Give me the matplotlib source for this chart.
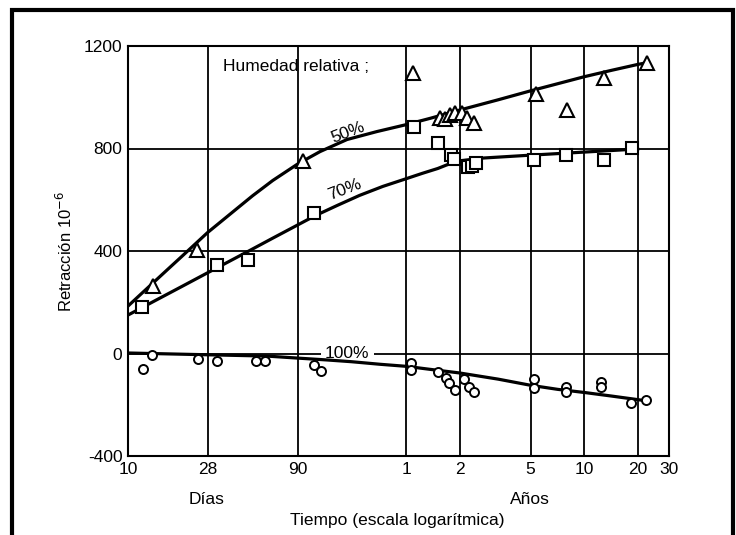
import matplotlib
matplotlib.use("Agg")
import matplotlib.pyplot as plt
from matplotlib.patches import Rectangle

plt.rcParams['font.family'] = ['Liberation Sans', 'DejaVu Sans']

# Time in days, shrinkage in microstrain (10^-6)
hr50_days = [13.8, 24.3, 96, 397, 565, 600, 641, 686, 748, 804, 874, 1954, 2923, 4719, 8246]
hr50_vals = [264, 404, 751, 1095, 919, 915, 931, 939, 939, 919, 900, 1013, 950, 1075, 1134]

hr70_days = [12, 31.6, 47, 111, 402, 555, 649, 676, 813, 852, 896, 1914, 2888, 4719, 6795]
hr70_vals = [182, 345, 365, 548, 884, 822, 775, 759, 728, 732, 743, 755, 775, 755, 802]

hr100_days = [12.1, 13.6, 24.6, 31.6, 52.2, 58.8, 111, 121, 387, 387,
              555, 611, 639, 684, 775, 822, 875, 1914, 1914, 2888, 2888,
              4547, 4547, 6710, 8150]
hr100_vals = [-59, -4, -23, -31, -31, -31, -43, -70, -39, -66,
              -74, -94, -117, -144, -101, -129, -152, -101, -133, -129, -152,
              -113, -129, -195, -183]

# Fitted trend curves
fit50_days = [10, 12, 14, 17, 20, 24, 28, 40, 50, 65, 90, 120, 170, 250,
              365, 500, 730, 1200, 1826, 2600, 3652, 5200, 7300, 8250]
fit50_vals = [185, 236, 279, 333, 378, 429, 472, 560, 615, 675, 740, 788, 835, 866,
              893, 918, 950, 990, 1025, 1053, 1080, 1105, 1128, 1135]

fit70_days = [10, 14, 20, 28, 36, 48, 65, 90, 112, 150, 200, 270, 365, 450,
              550, 650, 730, 1000, 1826, 3652, 7300]
fit70_vals = [150, 204, 261, 315, 355, 401, 450, 502, 537, 578, 617, 652, 682, 703,
              722, 742, 752, 763, 774, 786, 798]

fit100_days = [10, 28, 60, 90, 130, 180, 260, 365, 500, 730, 1200, 1826, 2600,
               3652, 5200, 7305, 8200]
fit100_vals = [2, -5, -10, -18, -25, -32, -42, -50, -62, -76, -100, -124, -140,
               -152, -166, -180, -185]

xtick_days = [10, 28, 90, 365, 730, 1826, 3652, 7305, 10950]
xtick_labels = ['10', '28', '90', '1', '2', '5', '10', '20', '30']
yticks = [-400, 0, 400, 800, 1200]

fig = plt.figure(figsize=(7.36, 5.35), dpi=100)
ax = fig.add_axes([128 / 736, 1 - 456 / 535, 541 / 736, 410 / 535])

ax.set_xscale('log')
ax.set_xlim(10, 10950)
ax.set_ylim(-400, 1200)
ax.set_xticks(xtick_days)
ax.set_xticklabels(xtick_labels)
ax.minorticks_off()
ax.set_yticks(yticks)
ax.set_yticklabels([str(v) for v in yticks])
ax.tick_params(length=0, labelsize=12.5, pad=4)
ax.grid(True, color='black', linewidth=1.3)
ax.set_axisbelow(True)
for s in ax.spines.values():
    s.set_linewidth(1.5)

ax.plot(fit50_days, fit50_vals, color='black', lw=2.3, zorder=3)
ax.plot(fit70_days, fit70_vals, color='black', lw=2.3, zorder=3)
ax.plot(fit100_days, fit100_vals, color='black', lw=2.3, zorder=3)

ax.plot(hr50_days, hr50_vals, ls='none', marker='^', ms=10.5, mfc='white',
        mec='black', mew=1.5, zorder=4)
ax.plot(hr70_days, hr70_vals, ls='none', marker='s', ms=8.5, mfc='white',
        mec='black', mew=1.5, zorder=4)
ax.plot(hr100_days, hr100_vals, ls='none', marker='o', ms=6.5, mfc='white',
        mec='black', mew=1.4, zorder=4)

ax.text(0.176, 0.951, 'Humedad relativa ;', transform=ax.transAxes,
        fontsize=12.5, ha='left', va='center', zorder=5)
ax.text(0.407, 0.790, '50%', transform=ax.transAxes, fontsize=12.5,
        ha='center', va='center', rotation=21, zorder=5)
ax.text(0.401, 0.649, '70%', transform=ax.transAxes, fontsize=12.5,
        ha='center', va='center', rotation=21, zorder=5)
ax.text(0.405, 0.251, '100%', transform=ax.transAxes, fontsize=12.5,
        ha='center', va='center', zorder=2.5,
        bbox=dict(boxstyle='square,pad=0.25', fc='white', ec='none'))

ax.set_ylabel('Retracción 10$^{-6}$', fontsize=12, labelpad=6)

fig.text(207 / 736, 1 - 500 / 535, 'Días', fontsize=12.5, ha='center', va='center')
fig.text(530 / 736, 1 - 500 / 535, 'Años', fontsize=12.5, ha='center', va='center')
fig.text(397 / 736, 1 - 521 / 535, 'Tiempo (escala logarítmica)', fontsize=12.5,
         ha='center', va='center')

# Outer frame, open at the bottom edge
fig.patches.append(Rectangle((12 / 736, -0.05), (733 - 12) / 736, 1.05 - 10 / 535,
                             transform=fig.transFigure, fill=False,
                             ec='black', lw=3.0))

fig.savefig('out.png', dpi=100)
